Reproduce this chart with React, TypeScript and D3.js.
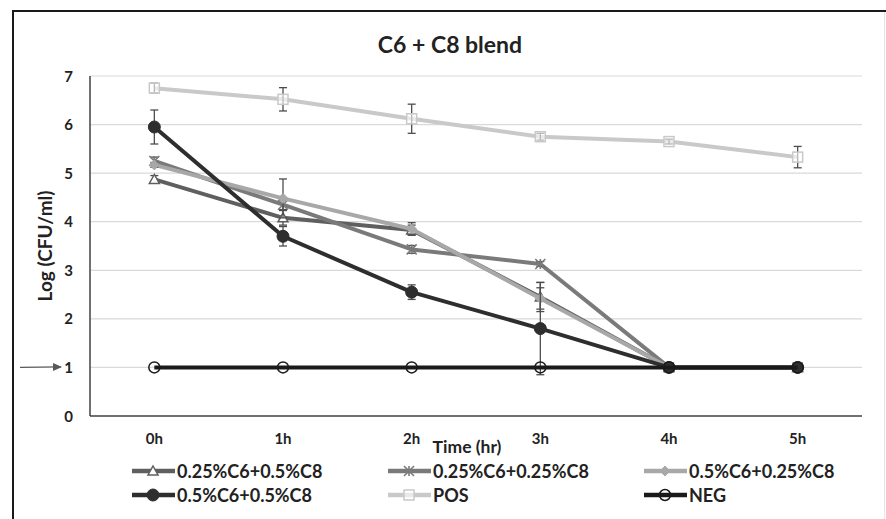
import React from 'react';
import * as d3 from 'd3';

const times = ['0h', '1h', '2h', '3h', '4h', '5h'];
const yTicks = [0, 1, 2, 3, 4, 5, 6, 7];

const names = ['0.25%C6+0.5%C8', '0.25%C6+0.25%C8', '0.5%C6+0.25%C8', '0.5%C6+0.5%C8', 'POS', 'NEG'];
const tri = [4.87, 4.08, 3.83, 2.45, 1, 1];
const triErr = [0.08, 0.15, 0.1, 0.3, 0, 0];
const star = [5.25, 4.35, 3.43, 3.13, 1, 1];
const starErr = [0.08, 0.1, 0.08, 0.05, 0, 0];
const dia = [5.17, 4.48, 3.85, 2.42, 1, 1];
const diaErr = [0.05, 0.4, 0.13, 0.22, 0, 0];
const dot = [5.95, 3.7, 2.55, 1.8, 1, 1];
const dotErr = [0.35, 0.2, 0.15, 0.95, 0, 0];
const pos = [6.75, 6.52, 6.12, 5.75, 5.65, 5.33];
const posErr = [0.1, 0.24, 0.3, 0.07, 0.05, 0.22];
const neg = [1, 1, 1, 1, 1, 1];
const negErr = [0, 0, 0, 0, 0, 0];

const colors = ['#5f5f5f', '#7a7a7a', '#a8a8a8', '#2e2e2e', '#c9c9c9', '#1a1a1a'];
const shapes = ['tri', 'star', 'dia', 'dot', 'sq', 'ring'];

const series = names.map((n, i) => ({
  name: n,
  values: [tri, star, dia, dot, pos, neg][i],
  errors: [triErr, starErr, diaErr, dotErr, posErr, negErr][i],
  color: colors[i],
  shape: shapes[i],
}));

const FONT = "Lato, 'Open Sans', sans-serif";

function Marker({ shape, x, y, color }: { shape: string; x: number; y: number; color: string }) {
  const r = 5;
  if (shape === 'tri') {
    return <path d={`M${x},${y - r}L${x + r},${y + r * 0.8}L${x - r},${y + r * 0.8}Z`} fill="white" stroke={color} strokeWidth={1.5} />;
  }
  if (shape === 'star') {
    return (
      <g stroke={color} strokeWidth={1.6}>
        <line x1={x - r} y1={y - r} x2={x + r} y2={y + r} />
        <line x1={x - r} y1={y + r} x2={x + r} y2={y - r} />
        <line x1={x} y1={y - r} x2={x} y2={y + r} />
      </g>
    );
  }
  if (shape === 'dia') {
    return <path d={`M${x},${y - r}L${x + r},${y}L${x},${y + r}L${x - r},${y}Z`} fill={color} stroke={color} strokeWidth={1} />;
  }
  if (shape === 'dot') {
    return <circle cx={x} cy={y} r={6} fill={color} stroke={color} />;
  }
  if (shape === 'sq') {
    return <rect x={x - 5} y={y - 5} width={10} height={10} fill="white" fillOpacity={0.6} stroke={color} strokeWidth={1.5} />;
  }
  return <circle cx={x} cy={y} r={5.5} fill="none" stroke={color} strokeWidth={1.5} />;
}

export default function App() {
  const W = 886, H = 519;
  const margin = { left: 90, right: 24, top: 76, bottom: 103 };
  const x = d3.scaleBand<string>().domain(times).range([margin.left, W - margin.right]);
  const y = d3.scaleLinear().domain([0, 7]).range([H - margin.bottom, margin.top]);
  const cx = (t: string) => (x(t) as number) + x.bandwidth() / 2;
  const line = d3.line<number>().x((_, i) => cx(times[i])).y(d => y(d));

  const legendCols = [132, 388, 644];
  const legendRows = [471, 495];

  return (
    <svg width={W} height={H} style={{ position: 'absolute', left: 0, top: 0, background: 'white' }}>
      <line x1={12} y1={11} x2={886} y2={11} stroke="#1a1a1a" strokeWidth={2} />
      <line x1={13} y1={10} x2={13} y2={519} stroke="#1a1a1a" strokeWidth={2} />
      <line x1={884.5} y1={12} x2={884.5} y2={519} stroke="#e6e6e6" strokeWidth={1} />

      <text x={450} y={53} textAnchor="middle" fontFamily={FONT} fontWeight="bold" fontSize={23} fill="#222">C6 + C8 blend</text>

      {yTicks.slice(1).map(t => (
        <line key={t} x1={margin.left} x2={W - margin.right} y1={y(t)} y2={y(t)} stroke="#d9d9d9" strokeWidth={1.2} />
      ))}
      <line x1={margin.left} x2={margin.left} y1={y(7)} y2={y(0)} stroke="#404040" strokeWidth={1.5} />
      <line x1={margin.left} x2={W - margin.right} y1={y(0)} y2={y(0)} stroke="#404040" strokeWidth={1.5} />

      {yTicks.map(t => (
        <text key={t} x={73} y={y(t) + 5.5} textAnchor="end" fontFamily={FONT} fontWeight="bold" fontSize={15} fill="#222">{t}</text>
      ))}
      {times.map(t => (
        <text key={t} x={cx(t)} y={444} textAnchor="middle" fontFamily={FONT} fontWeight="bold" fontSize={15} fill="#222">{t}</text>
      ))}
      <text x={467} y={453} textAnchor="middle" fontFamily={FONT} fontWeight="bold" fontSize={17.5} fill="#222">Time (hr)</text>
      <text transform={`translate(52,${y(3.5)}) rotate(-90)`} textAnchor="middle" fontFamily={FONT} fontWeight="bold" fontSize={19} fill="#222">Log (CFU/ml)</text>

      <defs>
        <marker id="arrowHead" markerWidth={9} markerHeight={9} refX={8} refY={4.5} orient="auto" markerUnits="userSpaceOnUse">
          <path d="M0,0.5L9,4.5L0,8.5Z" fill="#595959" />
        </marker>
      </defs>
      <line x1={20} y1={y(1)} x2={61} y2={y(1) - 0.5} stroke="#595959" strokeWidth={1.3} markerEnd="url(#arrowHead)" />

      {series.map(s => (
        <g key={s.name}>
          <path d={line(s.values) as string} fill="none" stroke={s.color} strokeWidth={4} strokeLinejoin="round" />
          {s.values.map((v, i) => s.errors[i] > 0 ? (
            <g key={i} stroke="#4d4d4d" strokeWidth={1.3}>
              <line x1={cx(times[i])} x2={cx(times[i])} y1={y(v - s.errors[i])} y2={y(v + s.errors[i])} />
              <line x1={cx(times[i]) - 4} x2={cx(times[i]) + 4} y1={y(v - s.errors[i])} y2={y(v - s.errors[i])} />
              <line x1={cx(times[i]) - 4} x2={cx(times[i]) + 4} y1={y(v + s.errors[i])} y2={y(v + s.errors[i])} />
            </g>
          ) : null)}
          {s.values.map((v, i) => (
            <Marker key={i} shape={s.shape} x={cx(times[i])} y={y(v)} color={s.color} />
          ))}
        </g>
      ))}

      {series.map((s, i) => {
        const lx = legendCols[i % 3];
        const ly = legendRows[Math.floor(i / 3)];
        return (
          <g key={s.name}>
            <line x1={lx} x2={lx + 43} y1={ly} y2={ly} stroke={s.color} strokeWidth={4.5} />
            <Marker shape={s.shape} x={lx + 21} y={ly} color={s.color} />
            <text x={lx + 45} y={ly + 6.5} fontFamily={FONT} fontWeight="bold" fontSize={18} fill="#222">{s.name}</text>
          </g>
        );
      })}
    </svg>
  );
}
